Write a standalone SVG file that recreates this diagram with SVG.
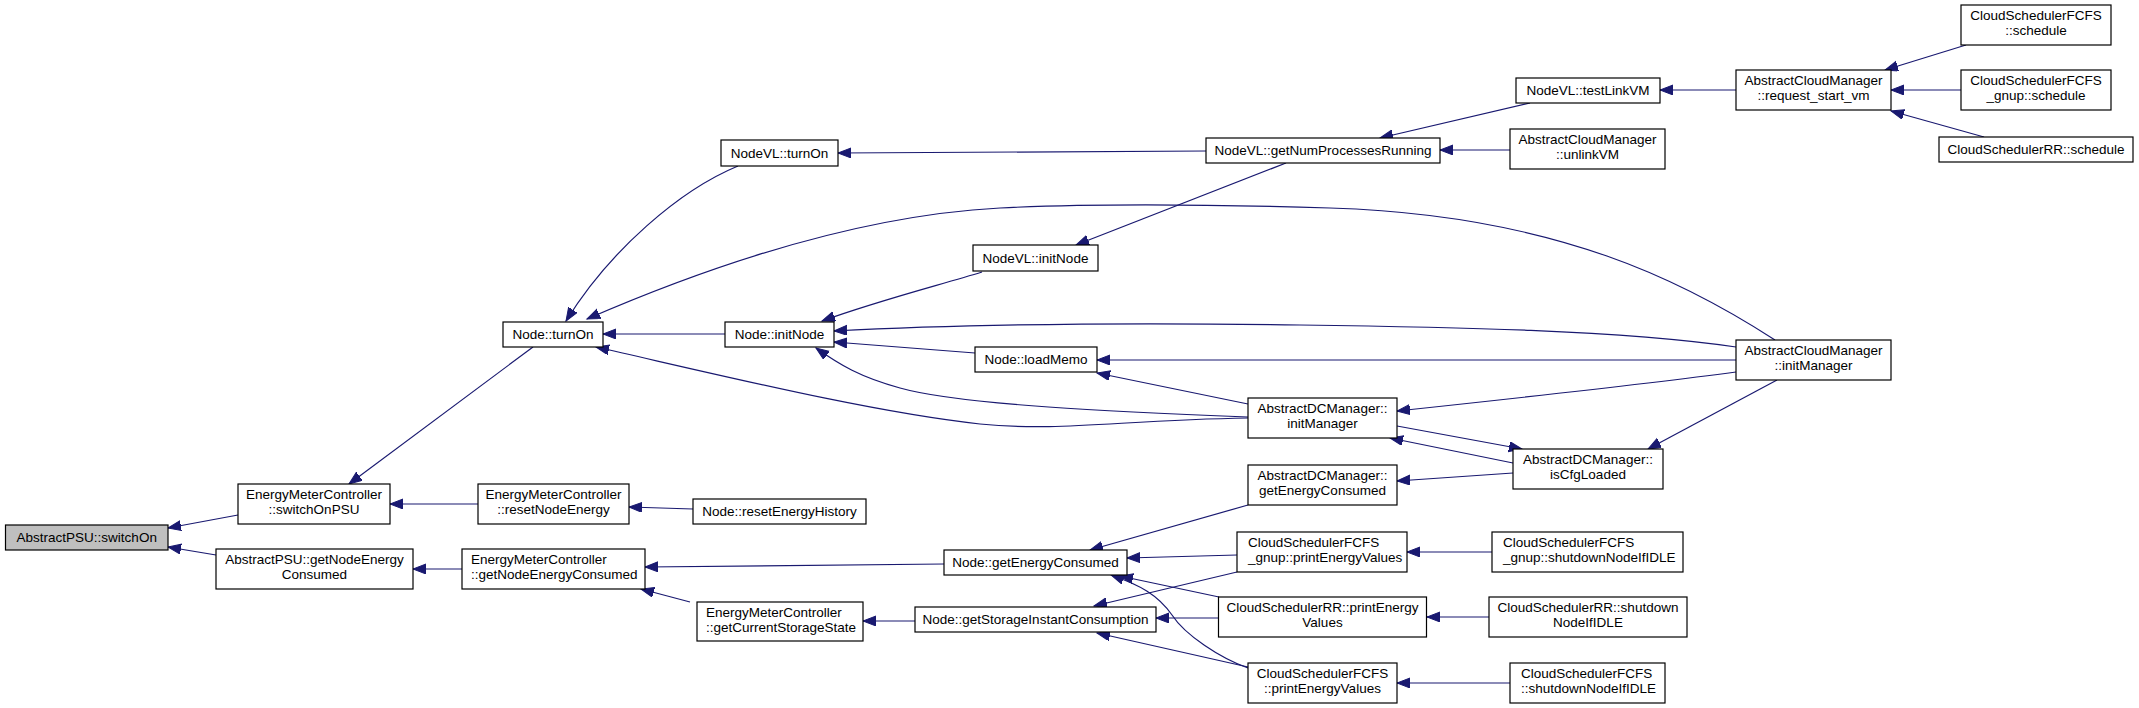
<svg xmlns="http://www.w3.org/2000/svg" width="2139" height="708" viewBox="0 0 2139 708">
<style>
.n rect{fill:#ffffff;stroke:#000000;stroke-width:1.2}
.n text{font-family:"Liberation Sans",Arial,sans-serif;font-size:13.5px;fill:#000000}
.c{text-anchor:middle}
.e path{fill:none;stroke:#191970;stroke-width:1.2}
</style>
<defs>
<marker id="ah" markerUnits="userSpaceOnUse" markerWidth="15" markerHeight="12" refX="13" refY="5" orient="auto">
<path d="M0,0 L13,5 L0,10 Z" fill="#191970" stroke="#191970" stroke-width="1"/>
</marker>
</defs>
<rect x="0" y="0" width="2139" height="708" fill="#ffffff"/>
<g class="e">
<path d="M238,515 L168,528" marker-end="url(#ah)"/>
<path d="M216,555 L168,547" marker-end="url(#ah)"/>
<path d="M533,347 L349,484" marker-end="url(#ah)"/>
<path d="M478,504 L390,504" marker-end="url(#ah)"/>
<path d="M462,569 L413,569" marker-end="url(#ah)"/>
<path d="M693,509 L629,507" marker-end="url(#ah)"/>
<path d="M944,564 L645,567" marker-end="url(#ah)"/>
<path d="M690,602 L641,589" marker-end="url(#ah)"/>
<path d="M738,166 C680,190 610,250 566,321" marker-end="url(#ah)"/>
<path d="M1775,340 C1690,285 1560,215 1330,208 C1170,203 1080,204 1000,208 C850,216 700,270 587,319" marker-end="url(#ah)"/>
<path d="M725,334 L603,334" marker-end="url(#ah)"/>
<path d="M1248,418 C1120,420 1060,432 980,424 C870,412 720,375 596,347" marker-end="url(#ah)"/>
<path d="M1206,151 L838,153" marker-end="url(#ah)"/>
<path d="M982,272 C940,285 880,300 822,321" marker-end="url(#ah)"/>
<path d="M1736,347 C1620,330 1450,327 1300,325 C1100,322 950,325 834,331" marker-end="url(#ah)"/>
<path d="M975,353 L834,342" marker-end="url(#ah)"/>
<path d="M1248,417 C1120,412 960,405 900,388 C860,377 840,365 816,348" marker-end="url(#ah)"/>
<path d="M1286,163 L1076,245" marker-end="url(#ah)"/>
<path d="M1736,360 L1097,360" marker-end="url(#ah)"/>
<path d="M1248,404 L1097,373" marker-end="url(#ah)"/>
<path d="M1530,103 L1380,138" marker-end="url(#ah)"/>
<path d="M1510,150 L1440,150" marker-end="url(#ah)"/>
<path d="M1736,90 L1660,90" marker-end="url(#ah)"/>
<path d="M1966,45 L1885,70" marker-end="url(#ah)"/>
<path d="M1961,90 L1891,90" marker-end="url(#ah)"/>
<path d="M1984,137 L1891,111" marker-end="url(#ah)"/>
<path d="M1736,372 C1640,385 1500,400 1397,411" marker-end="url(#ah)"/>
<path d="M1397,426 L1522,449" marker-end="url(#ah)"/>
<path d="M1513,463 L1390,438" marker-end="url(#ah)"/>
<path d="M1777,380 L1648,449" marker-end="url(#ah)"/>
<path d="M1513,473 L1397,481" marker-end="url(#ah)"/>
<path d="M1248,505 L1090,550" marker-end="url(#ah)"/>
<path d="M1237,555 L1127,558" marker-end="url(#ah)"/>
<path d="M1219,597 L1120,576" marker-end="url(#ah)"/>
<path d="M1248,668 C1220,658 1185,635 1172,615 C1158,595 1140,585 1111,575" marker-end="url(#ah)"/>
<path d="M1237,572 L1094,606" marker-end="url(#ah)"/>
<path d="M1219,618 L1156,618" marker-end="url(#ah)"/>
<path d="M1248,667 L1097,633" marker-end="url(#ah)"/>
<path d="M915,621 L863,621" marker-end="url(#ah)"/>
<path d="M1492,552 L1407,552" marker-end="url(#ah)"/>
<path d="M1489,617 L1427,617" marker-end="url(#ah)"/>
<path d="M1510,683 L1397,683" marker-end="url(#ah)"/>
</g>
<g id="n0" class="n"><rect x="5.5" y="525" width="162.5" height="25" style="fill:#bfbfbf"/><text class="c" x="86.75" y="542">AbstractPSU::switchOn</text></g>
<g id="n1" class="n"><rect x="238" y="484" width="152" height="40"/><text class="c" x="314" y="499">EnergyMeterController</text><text class="c" x="314" y="514">::switchOnPSU</text></g>
<g id="n2" class="n"><rect x="216" y="549" width="197" height="40"/><text class="c" x="314.5" y="564">AbstractPSU::getNodeEnergy</text><text class="c" x="314.5" y="579">Consumed</text></g>
<g id="n3" class="n"><rect x="503" y="322" width="100" height="25"/><text class="c" x="553" y="339">Node::turnOn</text></g>
<g id="n4" class="n"><rect x="478" y="484" width="151" height="40"/><text class="c" x="553.5" y="499">EnergyMeterController</text><text class="c" x="553.5" y="514">::resetNodeEnergy</text></g>
<g id="n5" class="n"><rect x="462" y="549" width="183" height="40"/><text x="471" y="564">EnergyMeterController</text><text x="471" y="579">::getNodeEnergyConsumed</text></g>
<g id="n6" class="n"><rect x="693" y="499" width="173" height="25"/><text class="c" x="779.5" y="516">Node::resetEnergyHistory</text></g>
<g id="n7" class="n"><rect x="944" y="550" width="183" height="25"/><text class="c" x="1035.5" y="567">Node::getEnergyConsumed</text></g>
<g id="n8" class="n"><rect x="697" y="602" width="166" height="39"/><text x="706" y="616.5">EnergyMeterController</text><text x="706" y="631.5">::getCurrentStorageState</text></g>
<g id="n9" class="n"><rect x="721" y="140" width="117" height="26"/><text class="c" x="779.5" y="157.5">NodeVL::turnOn</text></g>
<g id="n10" class="n"><rect x="725" y="322" width="109" height="25"/><text class="c" x="779.5" y="339">Node::initNode</text></g>
<g id="n11" class="n"><rect x="973" y="245" width="125" height="26"/><text class="c" x="1035.5" y="262.5">NodeVL::initNode</text></g>
<g id="n12" class="n"><rect x="975" y="347" width="122" height="25"/><text class="c" x="1036" y="364">Node::loadMemo</text></g>
<g id="n13" class="n"><rect x="915" y="607" width="241" height="25"/><text class="c" x="1035.5" y="624">Node::getStorageInstantConsumption</text></g>
<g id="n14" class="n"><rect x="1206" y="138" width="234" height="25"/><text class="c" x="1323" y="155">NodeVL::getNumProcessesRunning</text></g>
<g id="n15" class="n"><rect x="1248" y="398" width="149" height="40"/><text class="c" x="1322.5" y="413">AbstractDCManager::</text><text class="c" x="1322.5" y="428">initManager</text></g>
<g id="n16" class="n"><rect x="1248" y="465" width="149" height="40"/><text class="c" x="1322.5" y="480">AbstractDCManager::</text><text class="c" x="1322.5" y="495">getEnergyConsumed</text></g>
<g id="n17" class="n"><rect x="1237" y="532" width="170" height="40"/><text x="1248" y="547">CloudSchedulerFCFS</text><text x="1248" y="562">_gnup::printEnergyValues</text></g>
<g id="n18" class="n"><rect x="1218.5" y="597" width="208" height="40"/><text class="c" x="1322.5" y="612">CloudSchedulerRR::printEnergy</text><text class="c" x="1322.5" y="627">Values</text></g>
<g id="n19" class="n"><rect x="1248" y="663" width="149" height="40"/><text class="c" x="1322.5" y="678">CloudSchedulerFCFS</text><text class="c" x="1322.5" y="693">::printEnergyValues</text></g>
<g id="n20" class="n"><rect x="1516" y="78" width="144" height="25"/><text class="c" x="1588" y="95">NodeVL::testLinkVM</text></g>
<g id="n21" class="n"><rect x="1510" y="129" width="155" height="40"/><text class="c" x="1587.5" y="144">AbstractCloudManager</text><text class="c" x="1587.5" y="159">::unlinkVM</text></g>
<g id="n22" class="n"><rect x="1513" y="449" width="150" height="40"/><text class="c" x="1588" y="464">AbstractDCManager::</text><text class="c" x="1588" y="479">isCfgLoaded</text></g>
<g id="n23" class="n"><rect x="1492" y="532" width="191" height="40"/><text x="1503" y="547">CloudSchedulerFCFS</text><text x="1503" y="562">_gnup::shutdownNodeIfIDLE</text></g>
<g id="n24" class="n"><rect x="1489" y="597" width="198" height="40"/><text class="c" x="1588" y="612">CloudSchedulerRR::shutdown</text><text class="c" x="1588" y="627">NodeIfIDLE</text></g>
<g id="n25" class="n"><rect x="1510" y="663" width="155" height="40"/><text x="1521" y="678">CloudSchedulerFCFS</text><text x="1521" y="693">::shutdownNodeIfIDLE</text></g>
<g id="n26" class="n"><rect x="1736" y="70" width="155" height="40"/><text class="c" x="1813.5" y="85">AbstractCloudManager</text><text class="c" x="1813.5" y="100">::request_start_vm</text></g>
<g id="n27" class="n"><rect x="1736" y="340" width="155" height="40"/><text class="c" x="1813.5" y="355">AbstractCloudManager</text><text class="c" x="1813.5" y="370">::initManager</text></g>
<g id="n28" class="n"><rect x="1961" y="5" width="150" height="40"/><text class="c" x="2036" y="20">CloudSchedulerFCFS</text><text class="c" x="2036" y="35">::schedule</text></g>
<g id="n29" class="n"><rect x="1961" y="70" width="150" height="40"/><text class="c" x="2036" y="85">CloudSchedulerFCFS</text><text class="c" x="2036" y="100">_gnup::schedule</text></g>
<g id="n30" class="n"><rect x="1939" y="137" width="194" height="25"/><text class="c" x="2036" y="154">CloudSchedulerRR::schedule</text></g>
</svg>
